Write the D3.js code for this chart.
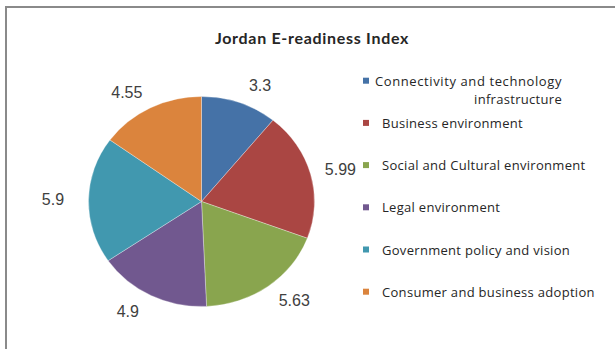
<!DOCTYPE html>
<html><head><meta charset="utf-8">
<script src="https://cdn.jsdelivr.net/npm/d3@7"></script>
<style>body{margin:0;background:#fff}svg{display:block}</style>
</head><body>
<svg id="c" width="615" height="349"></svg>
<script>
const title = "Jordan E-readiness Index";
const categories = ["Connectivity and technology infrastructure","Business environment","Social and Cultural environment","Legal environment","Government policy and vision","Consumer and business adoption"];
const legendLines = [["Connectivity and technology","infrastructure"],["Business environment"],["Social and Cultural environment"],["Legal environment"],["Government policy and vision"],["Consumer and business adoption"]];
const values = [3.3, 5.99, 5.63, 4.9, 5.9, 4.55];
const valueLabels = ["3.3","5.99","5.63","4.9","5.9","4.55"];
const colors = ["#4572A7","#AA4643","#89A54E","#71588F","#4198AF","#DB843D"];

const svg = d3.select("#c");
svg.append("line").attr("x1",5).attr("y1",7).attr("x2",615).attr("y2",7).attr("stroke","#8a8a8a").attr("stroke-width",2);
svg.append("line").attr("x1",6).attr("y1",6).attr("x2",6).attr("y2",349).attr("stroke","#8a8a8a").attr("stroke-width",2);

svg.append("text").attr("x",312).attr("y",44).attr("text-anchor","middle")
  .attr("font-family","Lato, 'Open Sans', sans-serif").attr("font-weight","bold").attr("font-size",16)
  .attr("letter-spacing",0.7).attr("fill","#262626").text(title);

const cx = 201.5, cy = 201.5, r = 105, sx = 1.076;
const pie = d3.pie().sort(null).value(d=>d);
const arcs = pie(values);
const arc = d3.arc().innerRadius(0).outerRadius(r);
const g = svg.append("g").attr("transform",`translate(${cx},${cy}) scale(${sx},1)`);
g.selectAll("path").data(arcs).join("path")
  .attr("d",arc).attr("fill",(d,i)=>colors[i]).attr("stroke","#ffffff").attr("stroke-width",0.6).attr("stroke-opacity",0.5);

const legendX = 363;
const lrx = r*1.2*sx, lry = r*1.17, push = 13;
const lab = svg.append("g");
arcs.forEach((d,i)=>{
  const a = (d.startAngle+d.endAngle)/2;
  const s = Math.sin(a);
  const t = lab.append("text").attr("font-family","'Liberation Sans', Arial, sans-serif").attr("font-size",16)
    .attr("fill","#404040").attr("text-anchor","middle").attr("dominant-baseline","central").text(valueLabels[i]);
  const w = t.node().getComputedTextLength();
  let x = cx + s*lrx + Math.sign(s)*push;
  x = Math.min(x, legendX - 7 - w/2);
  const y = cy - Math.cos(a)*lry;
  t.attr("x",x).attr("y",y);
});

const ly = d3.scalePoint().domain(categories).range([80.7, 291.7]);
const leg = svg.append("g").attr("font-family","'Open Sans', sans-serif").attr("font-size",13)
  .attr("letter-spacing",0.3).attr("fill","#262626");
categories.forEach((c,i)=>{
  const y = ly(c);
  leg.append("rect").attr("x",legendX).attr("y",y-3).attr("width",6).attr("height",6).attr("fill",colors[i]);
  const lines = legendLines[i];
  if (lines.length === 1) {
    leg.append("text").attr("x",382).attr("y",y).attr("dominant-baseline","central").text(lines[0]);
  } else {
    leg.append("text").attr("x",375).attr("y",y).attr("dominant-baseline","central").attr("letter-spacing",0.6).text(lines[0]);
    leg.append("text").attr("x",562).attr("y",y+18.5).attr("text-anchor","end").attr("dominant-baseline","central").text(lines[1]);
  }
});
</script>
</body></html>
